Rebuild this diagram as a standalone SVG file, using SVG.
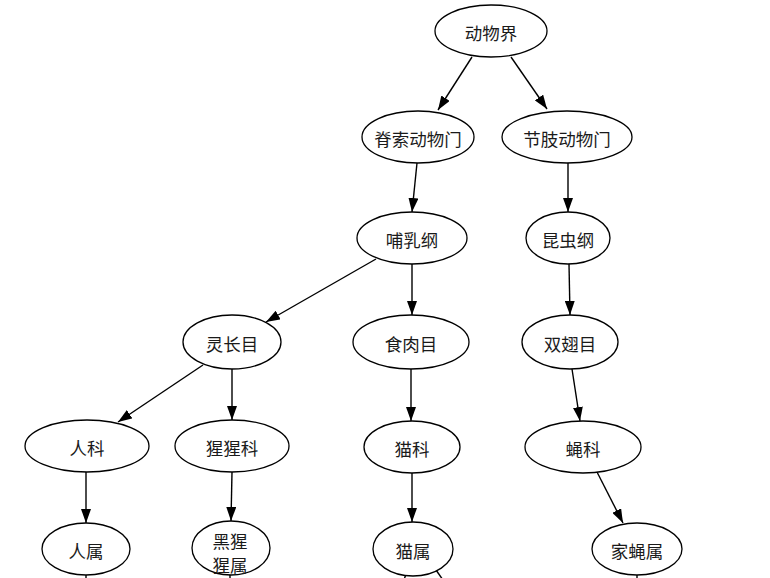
<svg xmlns="http://www.w3.org/2000/svg" width="770" height="578" viewBox="0 0 770 578">
<style>
.n ellipse{fill:#fff;stroke:#000;stroke-width:1.3}
.n text{font-family:"Noto Sans CJK SC","Noto Sans CJK JP",sans-serif;font-size:17.5px;fill:#1a1a1a;text-anchor:middle;dominant-baseline:central}
#edges line{stroke:#000;stroke-width:1.4}
#edges .a{marker-end:url(#arr)}
</style>
<defs>
<marker id="arr" markerUnits="userSpaceOnUse" markerWidth="14" markerHeight="10" refX="14" refY="5" orient="auto">
<path d="M0,0 L14,5 L0,10 z" fill="#000"/>
</marker>
</defs>
<rect width="770" height="578" fill="#fff"/>
<g id="edges">
<line class="a" x1="472" y1="57" x2="438" y2="110"/>
<line class="a" x1="511" y1="57" x2="547" y2="109"/>
<line class="a" x1="417" y1="163" x2="412" y2="212"/>
<line class="a" x1="568" y1="163" x2="568" y2="212"/>
<line class="a" x1="376" y1="259" x2="266" y2="322"/>
<line class="a" x1="412" y1="264" x2="412" y2="315"/>
<line class="a" x1="569" y1="264" x2="570" y2="315"/>
<line class="a" x1="203" y1="365" x2="118" y2="422"/>
<line class="a" x1="232" y1="369" x2="232" y2="420"/>
<line class="a" x1="411" y1="369" x2="411" y2="421"/>
<line class="a" x1="572" y1="369" x2="580" y2="421"/>
<line class="a" x1="86" y1="472" x2="86" y2="523"/>
<line class="a" x1="232" y1="472" x2="231" y2="521"/>
<line class="a" x1="412" y1="473" x2="412" y2="522"/>
<line class="a" x1="597" y1="472" x2="623" y2="523"/>
<line x1="86" y1="574" x2="86" y2="580"/>
<line x1="230" y1="574" x2="230" y2="580"/>
<line x1="406" y1="574" x2="404" y2="580"/>
<line x1="436" y1="570" x2="443" y2="580"/>
<line x1="637" y1="574" x2="637" y2="580"/>
</g>
<g id="n1" class="n"><ellipse cx="491" cy="31" rx="56" ry="26"/><text x="491" y="32">动物界</text></g>
<g id="n2" class="n"><ellipse cx="418" cy="137" rx="56" ry="26"/><text x="418" y="138">脊索动物门</text></g>
<g id="n3" class="n"><ellipse cx="567" cy="137" rx="65" ry="26"/><text x="567" y="138">节肢动物门</text></g>
<g id="n4" class="n"><ellipse cx="412" cy="238" rx="55" ry="26"/><text x="412" y="239">哺乳纲</text></g>
<g id="n5" class="n"><ellipse cx="568" cy="238" rx="42" ry="26"/><text x="568" y="239">昆虫纲</text></g>
<g id="n6" class="n"><ellipse cx="232" cy="342" rx="49" ry="27"/><text x="232" y="343">灵长目</text></g>
<g id="n7" class="n"><ellipse cx="411" cy="342" rx="58" ry="27"/><text x="411" y="343">食肉目</text></g>
<g id="n8" class="n"><ellipse cx="570" cy="342" rx="48" ry="27"/><text x="570" y="343">双翅目</text></g>
<g id="n9" class="n"><ellipse cx="87" cy="446" rx="62" ry="26"/><text x="87" y="447">人科</text></g>
<g id="n10" class="n"><ellipse cx="232" cy="446" rx="57" ry="26"/><text x="232" y="447">猩猩科</text></g>
<g id="n11" class="n"><ellipse cx="412" cy="447" rx="48" ry="26"/><text x="412" y="448">猫科</text></g>
<g id="n12" class="n"><ellipse cx="583" cy="447" rx="58" ry="26"/><text x="583" y="448">蝇科</text></g>
<g id="n13" class="n"><ellipse cx="86" cy="549" rx="44" ry="26"/><text x="86" y="550">人属</text></g>
<g id="n14" class="n"><ellipse cx="231" cy="548" rx="39" ry="27"/><text x="230" y="540">黑猩</text><text x="230" y="564">猩属</text></g>
<g id="n15" class="n"><ellipse cx="413" cy="549" rx="40" ry="27"/><text x="413" y="550">猫属</text></g>
<g id="n16" class="n"><ellipse cx="637" cy="549" rx="45" ry="26"/><text x="637" y="550">家蝇属</text></g>
</svg>
